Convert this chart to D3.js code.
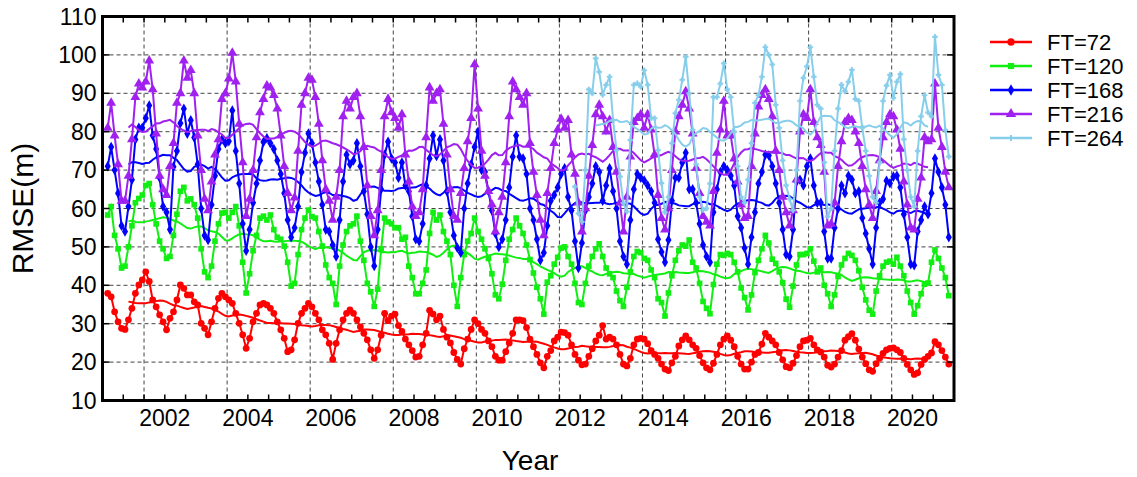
<!DOCTYPE html>
<html>
<head>
<meta charset="utf-8">
<script src="https://cdn.jsdelivr.net/npm/d3@7"></script>
<style>
  body { margin: 0; background: #fff; }
  svg { display: block; }
  text { font-family: "Liberation Sans", Arial, Helvetica, sans-serif; fill: #000; }
</style>
</head>
<body>
<div id="chart"></div>
<script>
// monthly RMSE values, first month = Feb 2001
const firstYear = 2001, firstMonth = 2;

const ft72 = [37.9,37.0,33.1,30.5,28.8,28.5,31,34,37.9,40.1,41.4,43.5,41,36.2,34.4,32.3,30.5,28.4,31.4,33.1,
  36.2,40.1,39.2,37.5,37.5,35.7,34.9,30.1,28.8,27.1,30.5,34,36.6,37.9,37,36.2,35.3,32.7,30.1,27.1,
  23.6,26.2,30.5,32.7,34.9,35.3,34.9,34,32.7,30.5,28.4,26.2,22.7,23.2,25.8,30.1,32.7,34,35.3,34.4,
  32.7,31,28.4,27.1,24.9,20.7,24.9,28.4,31,32.7,33.6,32.7,31,29.2,27.5,25.8,23.2,21,23.2,27,
  32.7,30.8,32,32.5,29.5,28,26,24.5,23,21.3,21.5,24.5,27.5,33.5,32.5,31,32,28.5,26.5,25,
  22.5,20.7,19.5,23.5,26,28.5,31,30,28.5,27.5,25.5,24,21.5,20.5,20.5,22.7,25,27.5,31,31,
  30.8,29,26,24,22,19.8,18.5,21.5,23,25.5,26.5,27.8,27.7,27,24.5,22,20.5,19.3,19.5,21.5,
  23.5,25.5,27,29.5,26,26.5,26,24.5,22,19.5,19,21,24.5,26,26.2,26,24.8,23,22,21,
  19.5,18.2,17.8,19.8,21.5,24.2,25.8,26.8,25.8,24.5,23.6,21.7,19.8,18.5,18,19.7,22,24.5,26,26.8,
  25.7,24,21.5,19.5,18.2,18.2,20,22,22.5,24.7,27.5,26.5,25.5,24.5,22.5,20.6,18.8,18.5,19.7,21.7,
  24,25.5,25.7,26.2,24.5,23.2,22.6,21.3,19.2,18.7,19.5,21.3,23,25.7,26.6,27.4,25.7,23.4,21.3,19.6,
  18,17.6,19.6,21,22.3,23.2,23.6,23.7,23.2,22.5,21,19.4,18,16.8,17.2,19.4,20.7,21.5,22.4,25.3,
  24.5,23,21.3,19.5];

const ft120 = [58.3,60.5,53,49.5,44.5,45,50,55.5,61.5,62.6,63.5,66,66.5,61,56,51.5,49.5,47,47.5,53,
  58.5,64.5,65.5,62,62.5,61,57.5,49.5,43.5,42,45,51.5,56,58.8,59,57.5,59,60.5,55.5,46,
  38,43,49,53,57.5,58,57,58.3,54.5,52.5,52,50.2,46,39.8,40.5,48,54.5,57.5,59.6,57.9,
  57.5,54,50.2,45.3,42,40.5,35,45,50.5,54,55.5,56,58,51.5,46.5,40.5,38.3,34.5,39,49.5,
  57.5,56.5,56,55,55,52,52.5,45,42,37.8,37.8,40.5,44,53.5,59,57,58.3,54,51.5,48,
  40,34.5,42,48,51.5,53.5,57.5,54,52,49.5,47,43,37.5,36.5,40.3,46.5,52,54.5,57.5,55.5,
  53.5,50.5,46.7,43.2,39.5,36.5,32.5,40.8,42.5,45.5,47.3,49.7,50,47.5,45.5,40.5,35.5,35,40.5,45,
  47.5,49.5,50.8,47.5,44.5,43,42,38.5,36,34.5,39.5,43.5,47.5,48.8,48.5,47,46.5,44,42,36.5,
  35.5,32,38,42.5,46.5,49,50.5,50.2,51.8,46,44.5,40.5,35.8,34,32.6,40.2,45.5,48,47.8,48.3,
  48,46,43.5,39.3,36.8,33.6,37.5,43.3,46.5,49.5,53,51,46.8,45.7,43.5,40.7,36.4,34.3,39.8,45.3,
  48,48,48.3,49.5,46.3,43.5,44.5,40,37.8,34.5,37.5,42.3,45.3,47,48.3,47.8,46.5,43.8,39.5,36.2,
  33.5,32.5,38.5,42.5,45,46,46.3,45.5,47.3,45,42.5,38.5,35.5,32.5,34.7,37.8,40.3,40.6,46,49.2,
  47,44.5,42,37.3];

const ft168 = [71,76,70,64,55.5,54,60.5,67.5,78,81,81,83.5,86.8,79,75.5,68,60.5,59,54.5,70.9,
  75,82.2,86,79.5,83,78.5,71.5,60,53,51.8,61,68.5,75.5,78,77,77.5,85.5,75,66.5,56,
  49,54.5,61.5,66.5,72.5,77.3,78.3,77,75.5,72.5,69,64,57,52.5,55,60.5,69.5,74.5,79.5,77,
  72,67,61,54.5,54,50.5,47.5,57,67,74,71.5,72.5,77,71,64.5,58.5,50,45,54.5,65,
  74,77.4,73,72,68,72,66,64.5,58,52,51.5,56,66,73,79,73.7,78,72.5,64.5,59,
  53,49.8,48.5,60,66.5,71.5,76,80,70,69.5,64.5,59.5,53.5,50,52,57,65.5,73.5,79,73.5,
  73,69,60,57,52,46.5,48.5,55.5,62,63.5,65.5,69,70.5,63,59.5,51.5,44.5,51,59.5,63,
  66.5,71,69.5,62,66,70.5,64.5,60,51.5,47.5,45.5,57,65,69,68,67.3,66,64.5,61.5,52,
  48.7,46,51.8,62,68,68,72,74.5,65,65,61.5,56,50.5,47.5,46,59,65,69.5,71,70,
  68.5,66,58,55,49.7,45.5,52.5,59,66.5,69.5,74,73.8,71,66.5,61.5,54.5,48,47.5,54.5,67,
  67.5,66,71,73,66,61.5,61.5,54,47,47,55,60,66,64,68.5,67.5,64,64.5,57.5,53.5,
  49.5,45.5,55,61.5,62.5,67.2,66.6,68.3,68.5,65.5,58.5,52.5,45.5,45.2,54,57,60.5,58.5,64,73,
  69.5,65.5,61,52.5];

const ft216 = [81,87.5,79,71.5,62,62,68.5,78,89,92.5,91.5,93,98.5,91,79.5,68.5,65,63.5,71,77,
  87.5,90,98.5,94,96,90,79,70,62.5,59.5,67,74,78,88.5,90,93.8,100.5,93,82,72,
  58,62.5,70,78.5,85,88.5,92,91.5,89.5,86,79,71,64,59.5,62.8,75,87,90,94,93.5,
  89,82,72.5,65,62,57,63,70,84,88,86,89,90,84,76,66,58,53,59.5,70,
  84,88.5,85,83.5,81,84.5,74,67,60.5,58,59,65,78.5,91.5,88,90,91,82,74,65,
  58,57,64,70.5,77.5,83.5,97.5,86,75,68.5,64.5,61,54,59,63,72,84,93,91,89,
  87,90,77,69.5,63.5,57,53,64,70.5,77,80.5,83.3,81,83,74,69,61.5,54,60,68.5,
  76.5,84.5,87,84,80,83,76,69.5,61.5,54,63,73.5,82.5,83.5,84.5,81,84.5,80.5,74,63.5,
  57.5,54.5,60,70,80,84,87,90.5,86,79.5,70.5,64,58,56.5,55.5,64.5,74.5,80.5,88,79,
  79,73,67,61,57.5,58,71,79.5,86.5,89.5,91,88.5,84,75,70,63,59,55.5,59.5,67.5,
  80,84.5,83.5,91,82.5,78.5,76.5,69.5,55.5,56,61.5,71,77.5,82.5,83.5,83,80,77,71,65,
  61,57.5,64.5,72.5,78.5,82.5,84.5,84,80.5,75.5,67,61,55,54.5,62.5,68,78.5,77.5,78,92.5,
  81,76,69.5,65.5];

// FT=264 only starts in mid 2012 (month index 135)
const ft264Start = 135;
const ft264 = [65.7,58.7,56.5,70,91,90,99.1,95.6,89.6,92.2,94.3,83,75.2,68.3,61.4,59.2,77.8,92.2,92.6,91.7,
  96,92.2,83.5,83.5,75.2,66.6,59,63,77,84.8,88.3,93.5,99.5,90,80.5,71.5,63,59.6,60,66.5,
  89,89,92.5,97.8,91,89,80,71,63,61.5,67.5,77,87.5,89.5,94.3,102,100,97.5,87,81,
  72.5,66,62.5,59.5,70,88,94,97,102,94.3,87,86,72,57.9,60,75,86,92.2,90.5,93,
  96.1,88.5,88,81,75,68.5,63,61.5,72,88,92,94.8,88.8,93,95,78,70,63,60.5,75,
  84,89.5,85,84,104.7,94.8,92.2,80.4,73.5];

const yTicks = [10, 20, 30, 40, 50, 60, 70, 80, 90, 100, 110];
const xLabels = [2002, 2004, 2006, 2008, 2010, 2012, 2014, 2016, 2018, 2020];

const series = [
  {name: "FT=72",  values: ft72,  start: 0,          color: "#ff0000", symbol: d3.symbolCircle,   size: 36},
  {name: "FT=120", values: ft120, start: 0,          color: "#11ee11", symbol: d3.symbolSquare,   size: 32},
  {name: "FT=168", values: ft168, start: 0,          color: "#0000ff", symbol: d3.symbolDiamond,  size: 32},
  {name: "FT=216", values: ft216, start: 0,          color: "#a020f0", symbol: d3.symbolTriangle, size: 42},
  {name: "FT=264", values: ft264, start: ft264Start, color: "#87ceeb", symbol: d3.symbolCross,    size: 14}
];

const W = 1137, H = 477;
const margin = {top: 16.5, left: 102.5, right: 183, bottom: 76.5};
const width = W - margin.left - margin.right;
const height = H - margin.top - margin.bottom;

const svg = d3.select("#chart").append("svg")
  .attr("width", W).attr("height", H);
const g = svg.append("g")
  .attr("transform", "translate(" + margin.left + "," + margin.top + ")");

const x = d3.scaleLinear().domain([2001, 2021.5]).range([0, width]);
const y = d3.scaleLinear().domain([10, 110]).range([height, 0]);

// month index -> decimal year (middle of month)
const monthToYear = i => firstYear + (firstMonth - 1 + i + 0.5) / 12;

// grid
g.selectAll(".hgrid").data(yTicks.slice(1, -1)).enter().append("line")
  .attr("x1", 0).attr("x2", width)
  .attr("y1", d => y(d)).attr("y2", d => y(d))
  .attr("stroke", "#444").attr("stroke-width", 1).attr("stroke-dasharray", "4,3");
g.selectAll(".vgrid").data(xLabels).enter().append("line")
  .attr("x1", d => x(d)).attr("x2", d => x(d))
  .attr("y1", 0).attr("y2", height)
  .attr("stroke", "#444").attr("stroke-width", 1).attr("stroke-dasharray", "4,3");

// series + 13 month centred running mean
const line = d3.line().x(d => x(d.t)).y(d => y(d.v));
series.forEach(s => {
  const pts = s.values.map((v, i) => ({t: monthToYear(s.start + i), v: v}));
  const trend = [];
  for (let i = 6; i < pts.length - 6; i++) {
    trend.push({t: pts[i].t, v: d3.mean(pts.slice(i - 6, i + 7), d => d.v)});
  }
  g.append("path").datum(pts).attr("d", line)
    .attr("fill", "none").attr("stroke", s.color).attr("stroke-width", 2);
  g.append("path").datum(trend).attr("d", line)
    .attr("fill", "none").attr("stroke", s.color).attr("stroke-width", 2);
  g.selectAll(null).data(pts).enter().append("path")
    .attr("d", d3.symbol().type(s.symbol).size(s.size))
    .attr("transform", d => "translate(" + x(d.t) + "," + y(d.v) + ")")
    .attr("fill", s.color).attr("stroke", s.color).attr("stroke-width", s.symbol === d3.symbolCross ? 0.5 : 0);
});

// ticks on all four sides, pointing inwards
const halfYears = d3.range(2001, 2021.51, 0.5);
g.selectAll(".tb").data(halfYears).enter().append("line")
  .attr("x1", d => x(d)).attr("x2", d => x(d)).attr("y1", height).attr("y2", height - 6)
  .attr("stroke", "#000").attr("stroke-width", 1.5);
g.selectAll(".tt").data(halfYears).enter().append("line")
  .attr("x1", d => x(d)).attr("x2", d => x(d)).attr("y1", 0).attr("y2", 6)
  .attr("stroke", "#000").attr("stroke-width", 1.5);
g.selectAll(".tl").data(yTicks).enter().append("line")
  .attr("x1", 0).attr("x2", 7).attr("y1", d => y(d)).attr("y2", d => y(d))
  .attr("stroke", "#000").attr("stroke-width", 1.5);
g.selectAll(".tr").data(yTicks).enter().append("line")
  .attr("x1", width - 7).attr("x2", width).attr("y1", d => y(d)).attr("y2", d => y(d))
  .attr("stroke", "#000").attr("stroke-width", 1.5);

// frame
g.append("rect").attr("width", width).attr("height", height)
  .attr("fill", "none").attr("stroke", "#000").attr("stroke-width", 3);

// tick labels
g.selectAll(".yl").data(yTicks).enter().append("text")
  .attr("x", -6).attr("y", d => y(d) + 8)
  .attr("text-anchor", "end").style("font-size", "23px")
  .text(d => d);
g.selectAll(".xl").data(xLabels).enter().append("text")
  .attr("x", d => x(d + 0.5)).attr("y", height + 25)
  .attr("text-anchor", "middle").style("font-size", "23px")
  .text(d => d);

// axis titles
svg.append("text")
  .attr("transform", "translate(33," + (margin.top + height / 2) + ") rotate(-90)")
  .attr("text-anchor", "middle").style("font-size", "30px")
  .text("RMSE(m)");
svg.append("text")
  .attr("x", 530).attr("y", 470)
  .attr("text-anchor", "middle").style("font-size", "28px")
  .text("Year");

// legend
const legend = svg.append("g").attr("transform", "translate(990,42)");
series.forEach((s, i) => {
  const row = legend.append("g").attr("transform", "translate(0," + (i * 24) + ")");
  row.append("line").attr("x1", 0).attr("x2", 42).attr("y1", 0).attr("y2", 0)
    .attr("stroke", s.color).attr("stroke-width", 2.5);
  row.append("path")
    .attr("d", d3.symbol().type(s.symbol).size(s.size + 6))
    .attr("transform", "translate(21,0)")
    .attr("fill", s.color);
  row.append("text").attr("x", 57).attr("y", 8)
    .style("font-size", "22px")
    .text(s.name);
});
</script>
</body>
</html>
